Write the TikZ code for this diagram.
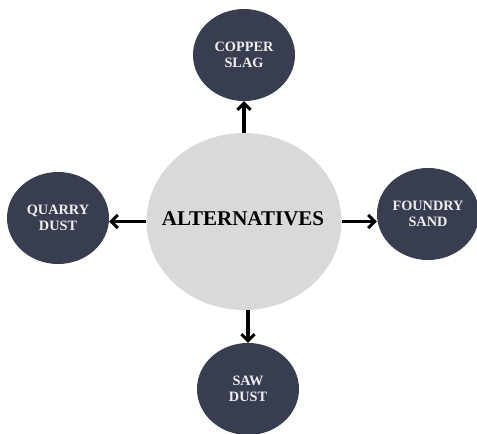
\documentclass[tikz,border=0pt]{standalone}
\usepackage{fontspec}
\setmainfont{Liberation Serif}
\usetikzlibrary{arrows.meta,shapes.geometric}
\definecolor{navy}{HTML}{383E50}
\definecolor{lgray}{HTML}{D9D9D9}
\definecolor{offwhite}{HTML}{EEEEEE}
\tikzset{
  leaf/.style={ellipse, fill=navy, text=offwhite, inner sep=0pt,
    minimum width=102bp, minimum height=92bp, align=center,
    font=\fontsize{14.3bp}{16bp}\selectfont\bfseries},
  hub/.style={ellipse, fill=lgray, inner sep=0pt, minimum width=195bp, minimum height=177bp},
  hubtext/.style={font=\fontsize{21bp}{24bp}\selectfont\bfseries},
  link/.style={line width=3.3bp, -{Straight Barb[length=6.5bp,width=13bp,line width=3bp]}}
}
\begin{document}
\begin{tikzpicture}[x=1bp,y=-1bp]
\useasboundingbox (0,0) rectangle (477,434);
\node[hub] (c) at (244,221.5) {};
\node[hubtext] (ct) at (243,219) {ALTERNATIVES};
\node[leaf] (t) at (244,55) {COPPER\\SLAG};
\node[leaf] (l) at (58,218) {QUARRY\\DUST};
\node[leaf] (r) at (428,214) {FOUNDRY\\SAND};
\node[leaf] (b) at (248,389) {SAW\\DUST};
\draw[link] (c.north) -- (t.south);
\draw[link] (c.west) -- (l.east |- c.west);
\draw[link] (c.east) -- (r.west |- c.east);
\draw[link] (c.south -| b.south) -- (b.north);
\end{tikzpicture}
\end{document}
